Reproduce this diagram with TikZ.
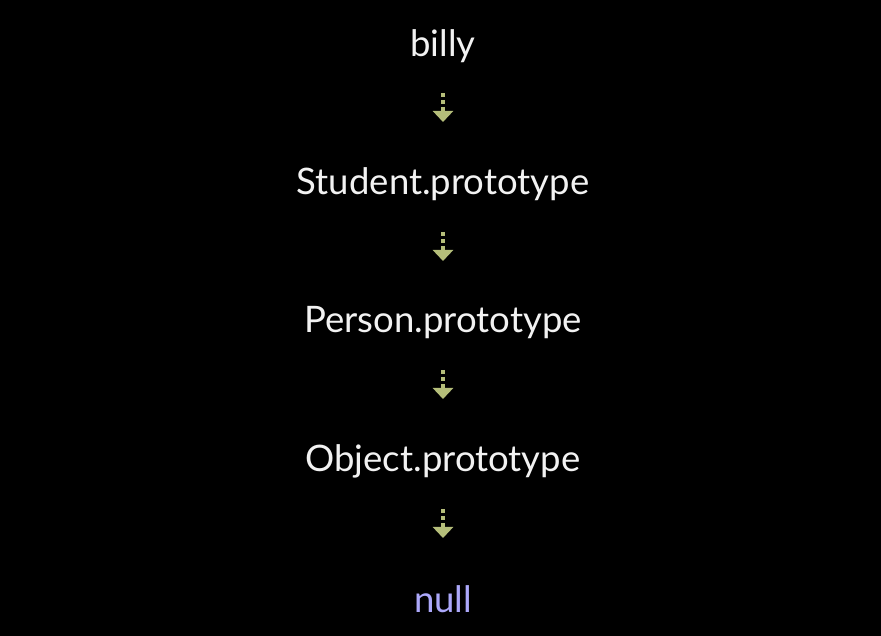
\documentclass[tikz,border=0pt]{standalone}
\usepackage{fontspec}
\setmainfont{Lato}
\usetikzlibrary{positioning,arrows.meta}
\definecolor{chaintext}{RGB}{242,242,242}
\definecolor{chainarrow}{RGB}{181,190,122}
\definecolor{nullcolor}{RGB}{172,168,250}
\tikzset{
  protobox/.style={text=chaintext, font=\fontsize{36.5}{42}\selectfont, inner sep=0pt, anchor=center},
  protolink/.style={draw=chainarrow, line width=4pt, dash pattern=on 4pt off 3pt,
    -{Triangle[width=20pt,length=11pt,fill=chainarrow]}},
}
\begin{document}
\begin{tikzpicture}[x=1pt, y=1pt]
  \fill[black] (0,0) rectangle (881,636);
  \useasboundingbox (0,0) rectangle (881,636);

  \node[protobox] (billy) at (443,590) {billy};
  \node[protobox] (student) at (443,452) {Student.prototype};
  \node[protobox] (person) at (443,313) {Person.prototype};
  \node[protobox] (object) at (443,175) {Object.prototype};
  \node[protobox, text=nullcolor] (null) at (443,37) {null};

  % links along the chain
  \coordinate (s1) at (443,543); \coordinate (e1) at (443,514);
  \coordinate (s2) at (443,404); \coordinate (e2) at (443,375);
  \coordinate (s3) at (443,266); \coordinate (e3) at (443,237);
  \coordinate (s4) at (443,127); \coordinate (e4) at (443,98);
  \foreach \i in {1,...,4}
    \draw[protolink] (s\i) -- (e\i);
\end{tikzpicture}
\end{document}
